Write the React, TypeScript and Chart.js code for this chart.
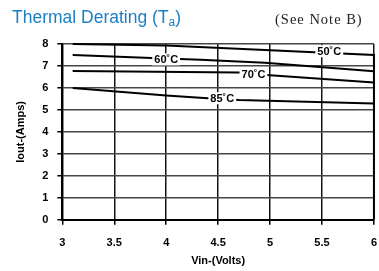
import React, { useEffect, useRef } from "react";
import { Chart, registerables } from "chart.js";

Chart.register(...registerables);

const xMin = 3;
const xMax = 6;
const xStep = 0.5;
const yMin = 0;
const yMax = 8;
const yStep = 1;

const vin50 = [3.1, 4.0, 6.0, 6.0];
const iout50 = [8.0, 7.93, 7.5, 0];
const vin60 = [3.1, 3.86, 4.33, 4.95, 6.0];
const iout60 = [7.5, 7.36, 7.28, 7.15, 6.76];
const vin70 = [3.1, 4.7, 5.0, 6.0];
const iout70 = [6.77, 6.7, 6.58, 6.25];
const vin85 = [3.1, 4.0, 4.4, 4.7, 6.0];
const iout85 = [6.0, 5.66, 5.53, 5.45, 5.29];

const labelText = ["50˚C", "60˚C", "70˚C", "85˚C"];
const labelX = [5.57, 4.0, 4.84, 4.54];
const labelY = [7.67, 7.3, 6.62, 5.53];

const pts = (xs: number[], ys: number[]) => xs.map((x, i) => ({ x, y: ys[i] }));

const FONT = "Arial, 'Liberation Sans', sans-serif";

const curveLabels = {
  id: "curveLabels",
  afterDatasetsDraw(chart: any) {
    const { ctx, scales } = chart;
    ctx.save();
    ctx.font = `bold 11px ${FONT}`;
    ctx.textAlign = "center";
    ctx.textBaseline = "middle";
    labelText.forEach((t, i) => {
      const px = scales.x.getPixelForValue(labelX[i]);
      const py = scales.y.getPixelForValue(labelY[i]);
      const w = ctx.measureText(t).width + 4;
      ctx.fillStyle = "#fff";
      ctx.fillRect(px - w / 2, py - 6, w, 12);
      ctx.fillStyle = "#000";
      ctx.fillText(t, px, py + 0.5);
    });
    ctx.restore();
  },
};

export default function App() {
  const ref = useRef<HTMLCanvasElement>(null);
  useEffect(() => {
    const ds = (xs: number[], ys: number[]) => ({
      data: pts(xs, ys),
      borderColor: "rgb(0,0,0)",
      borderWidth: 2,
      pointRadius: 0,
      tension: 0,
      fill: false,
      clip: 4,
    });
    const chart = new Chart(ref.current!, {
      type: "line",
      data: {
        datasets: [ds(vin50, iout50), ds(vin60, iout60), ds(vin70, iout70), ds(vin85, iout85)],
      },
      options: {
        animation: false,
        responsive: false,
        devicePixelRatio: 1,
        layout: { padding: { left: 0, right: 5, top: 44, bottom: 0 } },
        plugins: { legend: { display: false }, tooltip: { enabled: false } },
        scales: {
          x: {
            type: "linear",
            min: xMin,
            max: xMax,
            ticks: {
              stepSize: xStep,
              font: { family: FONT, size: 11, weight: "bold", lineHeight: 1 },
              color: "#000",
              padding: 2,
              maxRotation: 0,
              autoSkip: false,
              callback: (v: any) => ["", String(Math.round(Number(v) * 10) / 10)],
            },
            grid: { display: true, color: "rgb(20,20,20)", lineWidth: 1.5, tickLength: 5, tickColor: "rgb(0,0,0)" },
            border: { display: true, color: "#000", width: 2 },
            title: {
              display: true,
              text: "Vin-(Volts)",
              font: { family: FONT, size: 11, weight: "bold" },
              color: "#000",
              padding: { top: 4, bottom: 3 },
            },
          },
          y: {
            type: "linear",
            min: yMin,
            max: yMax,
            ticks: {
              stepSize: yStep,
              font: { family: FONT, size: 11, weight: "bold" },
              color: "#000",
              padding: 9,
              autoSkip: false,
            },
            grid: { display: true, color: "rgb(70,70,70)", lineWidth: 1.5, tickLength: 5, tickColor: "rgb(0,0,0)" },
            border: { display: true, color: "#000", width: 2 },
            title: {
              display: true,
              text: "Iout-(Amps)",
              font: { family: FONT, size: 11, weight: "bold" },
              color: "#000",
              padding: { top: 14, bottom: 6 },
            },
          },
        },
      },
      plugins: [curveLabels],
    } as any);
    return () => chart.destroy();
  }, []);

  return (
    <div style={{ position: "fixed", left: 0, top: 0, width: 379, height: 271, background: "#fff" }}>
      <canvas ref={ref} width={379} height={271} style={{ position: "absolute", left: 0, top: 0 }} />
      <div
        style={{
          position: "absolute",
          left: 12,
          top: 7,
          fontFamily: FONT,
          fontSize: 17.5,
          color: "#1b7fc4",
          whiteSpace: "nowrap",
          lineHeight: "20px",
        }}
      >
        Thermal Derating (T<sub style={{ fontSize: 12, verticalAlign: "-3px" }}>a</sub>)
      </div>
      <div
        style={{
          position: "absolute",
          left: 275,
          top: 10,
          fontFamily: "'Liberation Serif', 'DejaVu Serif', serif",
          fontSize: 14.5,
          letterSpacing: "1px",
          color: "#222",
          whiteSpace: "nowrap",
          lineHeight: "18px",
        }}
      >
        (See Note B)
      </div>
    </div>
  );
}
